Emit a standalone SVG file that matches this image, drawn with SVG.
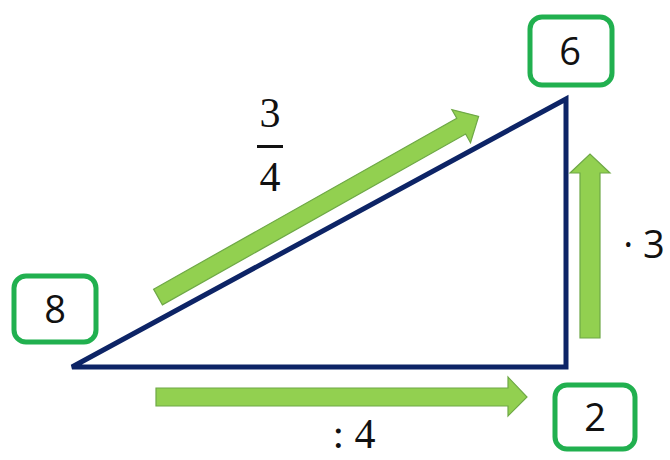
<svg xmlns="http://www.w3.org/2000/svg" width="670" height="460" viewBox="0 0 670 460">
<style>
.box{fill:#fff;stroke:#21b04f;stroke-width:5}
.num{font-family:"Open Sans","Liberation Sans",sans-serif;font-size:38px;fill:#111;text-anchor:middle}
.math{font-family:"Liberation Serif",serif;font-size:42px;fill:#111;text-anchor:middle}
.arr{fill:#92d050;stroke:#6ea846;stroke-width:1.2}
</style>
<rect width="670" height="460" fill="#fff"/>
<g id="triangle">
<polygon points="72,367 566,99 566,367" fill="none" stroke="#0d2466" stroke-width="5" stroke-linejoin="miter"/>
</g>
<g id="connectors">
<polygon class="arr" points="156,388 508,388 508,377 527,397 508,416 508,406 156,406"/>
<polygon class="arr" points="580,338 580,173 570,173 590,154 610,173 600,173 600,338"/>
<polygon class="arr" transform="translate(158,297) rotate(-29.4)" points="0,-9 348,-9 348,-19 368,0 348,19 348,9 0,9"/>
</g>
<g id="node-6"><rect class="box" x="530" y="17" width="82" height="68" rx="12"/><text class="num" x="570" y="65">6</text></g>
<g id="node-8"><rect class="box" x="14" y="276" width="82" height="66" rx="12"/><text class="num" x="55" y="323">8</text></g>
<g id="node-2"><rect class="box" x="555" y="385" width="80" height="64" rx="12"/><text class="num" x="595" y="431">2</text></g>
<g id="labels">
<text class="num" x="644" y="258">· 3</text>
<text class="math" x="354" y="448">: 4</text>
<text class="math" x="270" y="127">3</text>
<rect x="257" y="145" width="26" height="3" fill="#111"/>
<text class="math" x="270" y="191">4</text>
</g>
</svg>
